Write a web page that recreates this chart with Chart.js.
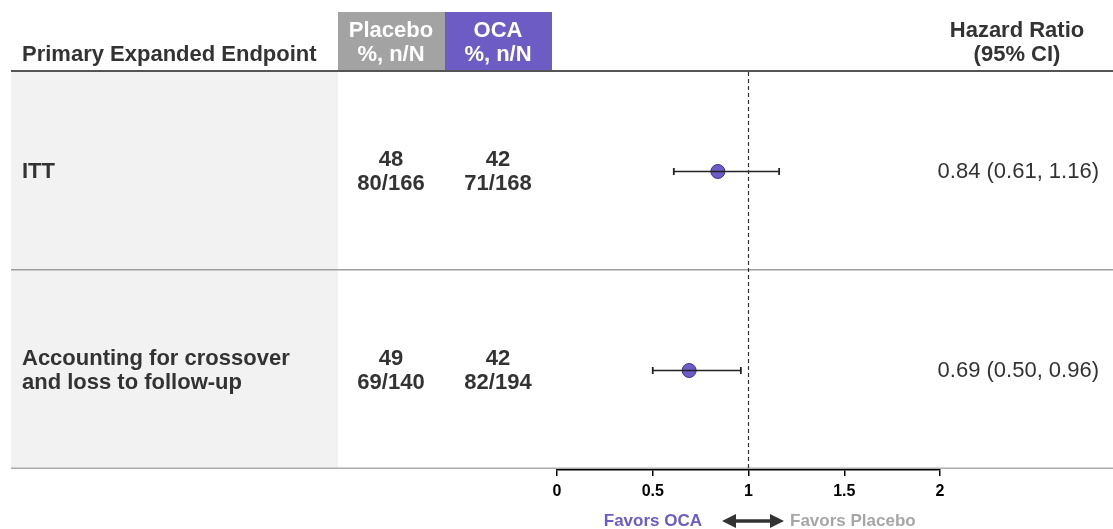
<!DOCTYPE html>
<html>
<head>
<meta charset="utf-8">
<script src="https://cdn.jsdelivr.net/npm/chart.js@4.4.1/dist/chart.umd.min.js"></script>
<style>
  html, body { margin: 0; padding: 0; background: #fff; }
  #wrap { width: 1113px; height: 529px; position: relative; }
</style>
</head>
<body>
<div id="wrap"><canvas id="forest"></canvas></div>
<script>
// table data
const endpoints = [['ITT'], ['Accounting for crossover', 'and loss to follow-up']];
const placeboPct = [48, 49];
const placeboNN = ['80/166', '69/140'];
const ocaPct = [42, 42];
const ocaNN = ['71/168', '82/194'];
// hazard ratios
const hr = [0.84, 0.69];
const ciLow = [0.61, 0.50];
const ciHigh = [1.16, 0.96];
const rowPos = [0.5, 1.5];
const xTicks = [0, 0.5, 1, 1.5, 2];

const purple = '#6C5CC4';
const grayBox = '#A3A3A3';
const ink = '#333333';
const FONT = '"Liberation Sans", Arial, sans-serif';

var datasets = [];
datasets.push({
  type: 'line',
  data: [{x: 1, y: 0}, {x: 1, y: 2}],
  borderColor: '#333',
  borderWidth: 1.2,
  borderDash: [4, 3],
  pointRadius: 0
});
hr.forEach((v, i) => {
  datasets.push({
    type: 'line',
    data: [{x: ciLow[i], y: rowPos[i]}, {x: ciHigh[i], y: rowPos[i]}],
    borderColor: '#222',
    borderWidth: 1.5,
    pointStyle: 'line',
    rotation: 90,
    pointRadius: 3.5,
    pointBorderWidth: 1.8,
    pointBorderColor: '#222'
  });
});
datasets.push({
  type: 'scatter',
  data: hr.map((v, i) => ({x: v, y: rowPos[i]})),
  pointRadius: 7,
  pointBackgroundColor: purple,
  pointBorderColor: '#3E3190',
  pointBorderWidth: 1
});

const tablePlugin = {
  id: 'table',
  beforeDraw(chart) {
    const c = chart.ctx;
    c.save();
    c.fillStyle = '#F2F2F2';
    c.fillRect(11, 72, 327, 397);
    c.fillStyle = grayBox;
    c.fillRect(338, 12, 107, 60);
    c.fillStyle = purple;
    c.fillRect(445, 12, 107, 60);
    c.fillStyle = '#555';
    c.fillRect(11, 70, 1102, 2);
    c.fillStyle = '#9E9E9E';
    c.fillRect(11, 269, 1102, 1.5);
    c.fillStyle = '#ABABAB';
    c.fillRect(11, 467.5, 1102, 1.5);
    c.restore();
  },
  afterDraw(chart) {
    const c = chart.ctx;
    const y = chart.scales.y;
    c.save();
    c.textBaseline = 'middle';
    // header
    c.font = 'bold 22px ' + FONT;
    c.fillStyle = ink;
    c.textAlign = 'left';
    c.fillText('Primary Expanded Endpoint', 22, 55);
    c.textAlign = 'center';
    c.fillStyle = '#fff';
    c.fillText('Placebo', 391, 31);
    c.fillText('%, n/N', 391, 55);
    c.fillText('OCA', 498, 31);
    c.fillText('%, n/N', 498, 55);
    c.fillStyle = ink;
    c.fillText('Hazard Ratio', 1017, 31);
    c.fillText('(95% CI)', 1017, 55);
    // rows
    rowPos.forEach((p, i) => {
      const cy = y.getPixelForValue(p);
      c.font = 'bold 22px ' + FONT;
      c.fillStyle = ink;
      c.textAlign = 'left';
      const lines = endpoints[i];
      lines.forEach((t, k) => {
        c.fillText(t, 22, cy - (lines.length - 1) * 12 + k * 24);
      });
      c.textAlign = 'center';
      c.fillText(String(placeboPct[i]), 391, cy - 12);
      c.fillText(placeboNN[i], 391, cy + 12);
      c.fillText(String(ocaPct[i]), 498, cy - 12);
      c.fillText(ocaNN[i], 498, cy + 12);
      c.font = '22px ' + FONT;
      c.textAlign = 'right';
      c.fillText(hr[i].toFixed(2) + ' (' + ciLow[i].toFixed(2) + ', ' + ciHigh[i].toFixed(2) + ')', 1099, cy);
    });
    // favors
    c.font = 'bold 17px ' + FONT;
    c.textAlign = 'right';
    c.fillStyle = purple;
    c.fillText('Favors OCA', 702, 521);
    c.textAlign = 'left';
    c.fillStyle = '#A6A6A6';
    c.fillText('Favors Placebo', 790, 521);
    // arrow
    c.strokeStyle = '#333';
    c.fillStyle = '#333';
    c.lineWidth = 3.5;
    c.beginPath();
    c.moveTo(731, 521);
    c.lineTo(775, 521);
    c.stroke();
    c.beginPath();
    c.moveTo(722, 521); c.lineTo(736, 514); c.lineTo(736, 528); c.closePath(); c.fill();
    c.beginPath();
    c.moveTo(784, 521); c.lineTo(770, 514); c.lineTo(770, 528); c.closePath(); c.fill();
    c.restore();
  }
};

new Chart(document.getElementById('forest'), {
  type: 'scatter',
  data: { datasets: datasets },
  options: {
    responsive: true,
    maintainAspectRatio: false,
    animation: false,
    layout: { padding: { left: 557, right: 173, top: 72, bottom: 0 } },
    plugins: { legend: { display: false }, tooltip: { enabled: false } },
    scales: {
      x: {
        type: 'linear',
        min: 0,
        max: 2,
        afterBuildTicks: (scale) => { scale.ticks = xTicks.map(v => ({value: v})); },
        afterFit: (scale) => { scale.height = 59; },
        ticks: {
          color: '#000',
          padding: 6,
          maxRotation: 0,
          font: { family: FONT, size: 16, weight: 'bold' },
          callback: (v) => String(v)
        },
        grid: { drawOnChartArea: false, drawTicks: true, tickLength: 6, color: '#000', lineWidth: 1.5 },
        border: { display: true, color: '#000', width: 1.5 }
      },
      y: {
        type: 'linear',
        min: 0,
        max: 2,
        reverse: true,
        display: false
      }
    }
  },
  plugins: [tablePlugin]
});
</script>
</body>
</html>
